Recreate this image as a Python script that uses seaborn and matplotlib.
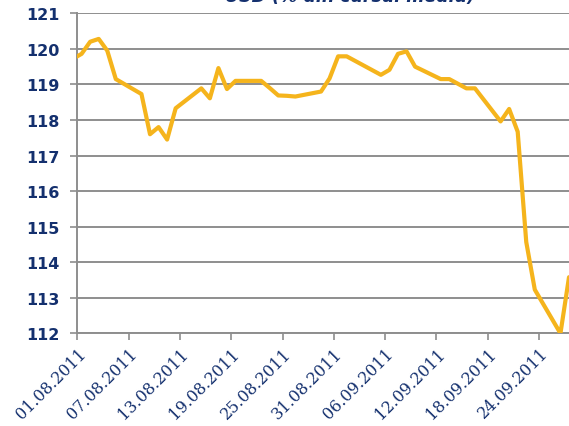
import matplotlib
matplotlib.use("Agg")
import matplotlib.pyplot as plt
import seaborn as sns
import numpy as np
import pandas as pd

# data
dates = ["2011-07-29",
         "2011-08-01", "2011-08-02", "2011-08-03", "2011-08-04", "2011-08-05",
         "2011-08-08", "2011-08-09", "2011-08-10", "2011-08-11", "2011-08-12",
         "2011-08-15", "2011-08-16", "2011-08-17", "2011-08-18", "2011-08-19",
         "2011-08-22", "2011-08-23", "2011-08-24", "2011-08-25", "2011-08-26",
         "2011-08-29", "2011-08-30", "2011-08-31", "2011-09-01", "2011-09-02",
         "2011-09-05", "2011-09-06", "2011-09-07", "2011-09-08", "2011-09-09",
         "2011-09-12", "2011-09-13", "2011-09-14", "2011-09-15", "2011-09-16",
         "2011-09-19", "2011-09-20", "2011-09-21", "2011-09-22", "2011-09-23",
         "2011-09-26", "2011-09-27"]
values = [119.45,
          119.86, 120.20, 120.28, 119.95, 119.15,
          118.73, 117.60, 117.80, 117.45, 118.33,
          118.89, 118.61, 119.46, 118.87, 119.10,
          119.10, 118.90, 118.69, 118.68, 118.66,
          118.80, 119.17, 119.79, 119.79, 119.66,
          119.27, 119.41, 119.86, 119.93, 119.50,
          119.15, 119.15, 119.02, 118.89, 118.89,
          117.96, 118.31, 117.67, 114.57, 113.23,
          112.00, 113.58]
tick_dates = ["2011-08-01", "2011-08-07", "2011-08-13", "2011-08-19", "2011-08-25",
              "2011-08-31", "2011-09-06", "2011-09-12", "2011-09-18", "2011-09-24"]
title = "USD (% din cursul mediu)"

navy = "#14306e"
grid = "#8e8e8e"
line_col = "#f5b41c"

df = pd.DataFrame({"date": pd.to_datetime(dates) + pd.Timedelta(hours=12),
                   "value": values})

sns.set_style("white")
fig = plt.figure(figsize=(5.69, 4.27), dpi=100)
ax = fig.add_axes([0.1359, 0.2169, 0.8641, 0.7496])

sns.lineplot(data=df, x="date", y="value", ax=ax, color=line_col,
             linewidth=3.0, zorder=3)

ax.set_ylim(112, 121)
ax.set_yticks(np.arange(112, 122, 1))
ax.set_xlim(pd.Timestamp("2011-08-01"), pd.Timestamp("2011-09-27 12:00"))
ticks = pd.to_datetime(tick_dates)
ax.set_xticks(ticks)
ax.set_xticklabels([t.strftime("%d.%m.%Y") for t in ticks])

ax.yaxis.grid(True, color=grid, linewidth=1.4)
ax.xaxis.grid(False)
ax.set_axisbelow(True)
for s in ["top", "right"]:
    ax.spines[s].set_visible(False)
for s in ["left", "bottom"]:
    ax.spines[s].set_color(grid)
    ax.spines[s].set_linewidth(1.4)

ax.tick_params(axis="both", which="both", direction="out", length=5,
               width=1.2, color=grid, bottom=True, left=True)
ax.tick_params(axis="y", pad=8)
ax.tick_params(axis="x", pad=3)

for lab in ax.get_yticklabels():
    lab.set_fontfamily("DejaVu Sans")
    lab.set_fontweight("bold")
    lab.set_fontsize(11.5)
    lab.set_color(navy)
for lab in ax.get_xticklabels():
    lab.set_fontfamily("DejaVu Serif")
    lab.set_fontsize(11.5)
    lab.set_color(navy)
    lab.set_rotation(45)
    lab.set_ha("right")
    lab.set_va("top")
    lab.set_rotation_mode("anchor")

ax.set_xlabel("")
ax.set_ylabel("")

# title sits mostly above the visible area, as in the reference
fig.text(0.615, 0.987, title, ha="center", va="bottom", fontsize=12.5,
         fontweight="bold", fontstyle="italic", color=navy)

fig.savefig("out.png", dpi=100)
